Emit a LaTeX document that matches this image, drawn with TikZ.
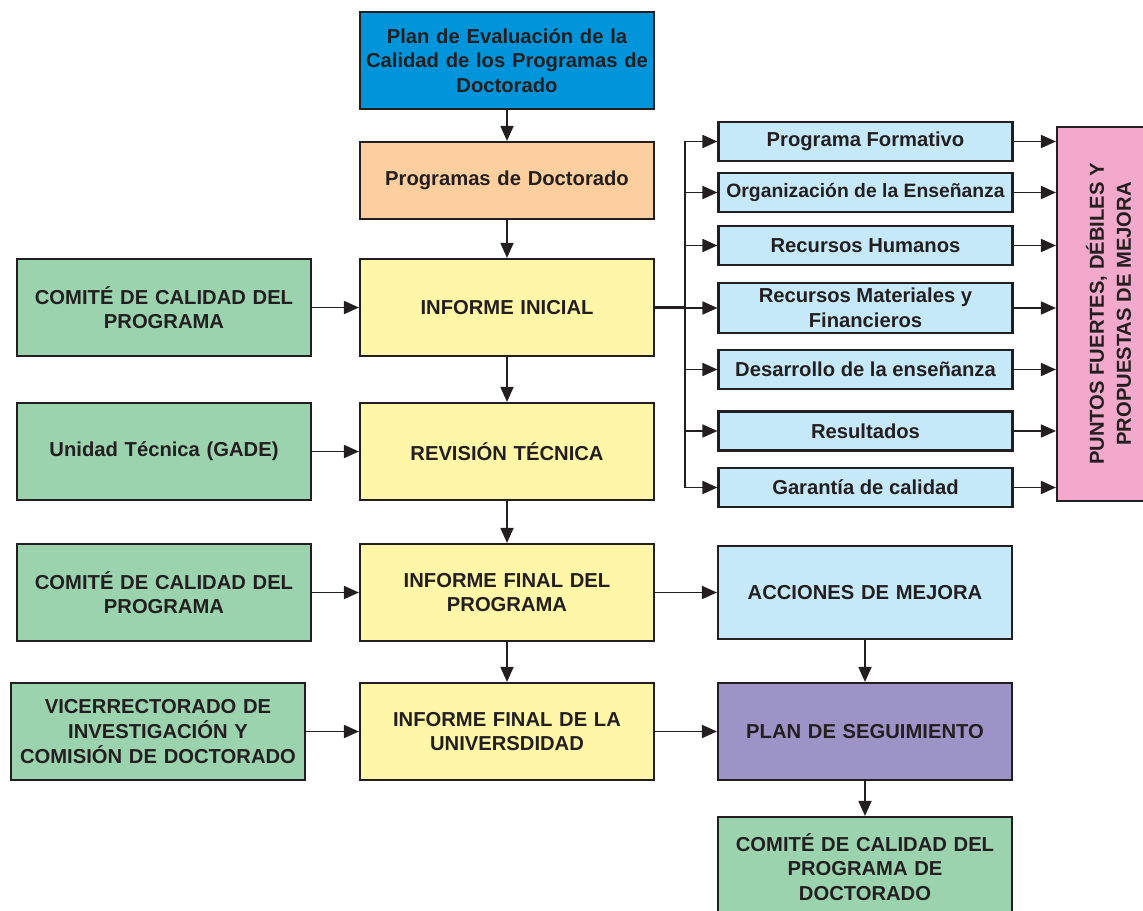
\documentclass[tikz,border=0pt]{standalone}
\usepackage{fontspec}
\setmainfont{Liberation Sans}
\usetikzlibrary{arrows.meta}

\definecolor{linea}{HTML}{231F20}
\definecolor{azul}{HTML}{0095DA}
\definecolor{naranja}{HTML}{FDCF9E}
\definecolor{amarillo}{HTML}{FFF6A8}
\definecolor{verde}{HTML}{9AD3AE}
\definecolor{celeste}{HTML}{C6E9F9}
\definecolor{morado}{HTML}{9C94C7}
\definecolor{rosa}{HTML}{F3A9CB}

\begin{document}
\begin{tikzpicture}[
caja/.style={draw=linea, line width=1.2pt, align=center, text=linea,
  text width=5.7cm, minimum width=5.88cm, minimum height=1.94cm, inner sep=0pt,
  font=\bfseries\fontsize{11.5}{14}\selectfont},
chica/.style={caja, fill=celeste, text width=, minimum height=0.78cm},
flecha/.style={draw=linea, line width=1pt, -{Triangle[length=0.3cm,width=0.26cm]}}
]

\useasboundingbox (0,0) rectangle (22.86,-18.22);

% columna central
\node[caja, fill=azul] (plan) at (10.14,-1.21) {Plan de Evaluación de la\\Calidad de los Programas de\\Doctorado};
\node[caja, fill=naranja, minimum height=1.54cm] (programas) at (10.14,-3.61) {Programas de Doctorado};
\node[caja, fill=amarillo] (inicial) at (10.14,-6.15) {INFORME INICIAL};
\node[caja, fill=amarillo] (revision) at (10.14,-9.03) {REVISIÓN TÉCNICA};
\node[caja, fill=amarillo] (finalprog) at (10.14,-11.85) {INFORME FINAL DEL\\PROGRAMA};
\node[caja, fill=amarillo] (finaluni) at (10.14,-14.63) {INFORME FINAL DE LA\\UNIVERSDIDAD};

% columna izquierda
\node[caja, fill=verde] (comite) at (3.28,-6.15) {COMITÉ DE CALIDAD DEL\\PROGRAMA};
\node[caja, fill=verde] (unidad) at (3.28,-9.03) {Unidad Técnica (GADE)};
\node[caja, fill=verde] (comitedos) at (3.28,-11.85) {COMITÉ DE CALIDAD DEL\\PROGRAMA};
\node[caja, fill=verde] (vice) at (3.16,-14.63) {VICERRECTORADO DE\\INVESTIGACIÓN Y\\COMISIÓN DE DOCTORADO};

% columna derecha
\node[chica] (formativo) at (17.31,-2.83) {Programa Formativo};
\node[chica, font=\bfseries\fontsize{11}{14}\selectfont] (organizacion) at (17.31,-3.85) {Organización de la Enseñanza};
\node[chica] (humanos) at (17.31,-4.91) {Recursos Humanos};
\node[chica, minimum height=1.0cm] (materiales) at (17.31,-6.16) {Recursos Materiales y\\Financieros};
\node[chica] (desarrollo) at (17.31,-7.39) {Desarrollo de la enseñanza};
\node[chica] (resultados) at (17.31,-8.62) {Resultados};
\node[chica] (garantia) at (17.31,-9.75) {Garantía de calidad};

\node[caja, fill=celeste, minimum height=1.86cm] (acciones) at (17.30,-11.85) {ACCIONES DE MEJORA};
\node[caja, fill=morado] (seguimiento) at (17.30,-14.63) {PLAN DE SEGUIMIENTO};
\node[caja, fill=verde, minimum height=2.0cm] (comitefin) at (17.30,-17.34) {COMITÉ DE CALIDAD DEL\\PROGRAMA DE\\DOCTORADO};

\node[caja, fill=rosa, text width=, minimum width=2.06cm, minimum height=7.48cm] (puntos) at (22.17,-6.28) {};
\node[rotate=90, align=center, text=linea, font=\bfseries\fontsize{11.5}{15.3}\selectfont] (puntostxt) at (puntos.center) {PUNTOS FUERTES, DÉBILES Y\\PROPUESTAS DE MEJORA};

% flechas
\draw[flecha] (plan) -- (programas);
\draw[flecha] (programas) -- (inicial);
\draw[flecha] (inicial) -- (revision);
\draw[flecha] (revision) -- (finalprog);
\draw[flecha] (finalprog) -- (finaluni);

\draw[flecha] (comite) -- (inicial);
\draw[flecha] (unidad) -- (revision);
\draw[flecha] (comitedos) -- (finalprog);
\draw[flecha] (vice) -- (finaluni);

\draw[flecha] (finalprog) -- (acciones);
\draw[flecha] (finaluni) -- (seguimiento);
\draw[flecha] (acciones) -- (seguimiento);
\draw[flecha] (seguimiento) -- (comitefin);

\coordinate (bus) at (13.70,-6.15);
\draw[draw=linea, line width=1.6pt] (inicial.east) -- (bus);
\draw[draw=linea, line width=1pt] (bus |- formativo) -- (bus |- garantia);
\foreach \n in {formativo,organizacion,humanos,materiales,desarrollo,resultados,garantia}{
  \draw[flecha] (bus |- \n) -- (\n.west);
  \draw[flecha] (\n.east) -- (\n.east -| puntos.west);
}

\end{tikzpicture}
\end{document}
